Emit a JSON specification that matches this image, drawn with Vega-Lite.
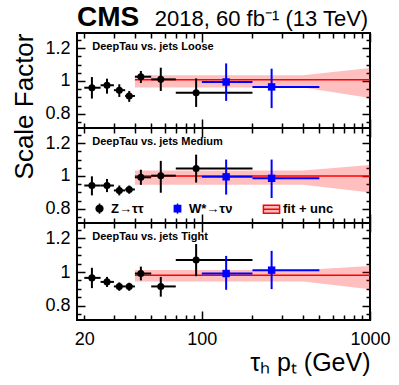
{
  "$schema": "https://vega.github.io/schema/vega-lite/v6.json",
  "autosize": {"type": "pad"},
  "padding": {"left": 10, "top": 3, "right": 0, "bottom": 0},
  "background": "white",
  "bounds": "flush",
  "spacing": 0,
  "datasets": {
    "points": [
      {"wp": "Loose", "src": "Z→ττ", "x": 22.2, "xlo": 20, "xhi": 25, "y": 0.959, "ylo": 0.893, "yhi": 1.024},
      {"wp": "Loose", "src": "Z→ττ", "x": 27.3, "xlo": 25, "xhi": 30, "y": 0.974, "ylo": 0.923, "yhi": 1.014},
      {"wp": "Loose", "src": "Z→ττ", "x": 32.3, "xlo": 30, "xhi": 35, "y": 0.944, "ylo": 0.903, "yhi": 0.98},
      {"wp": "Loose", "src": "Z→ττ", "x": 37.0, "xlo": 35, "xhi": 40, "y": 0.909, "ylo": 0.873, "yhi": 0.939},
      {"wp": "Loose", "src": "Z→ττ", "x": 43.4, "xlo": 40, "xhi": 50, "y": 1.026, "ylo": 0.988, "yhi": 1.061},
      {"wp": "Loose", "src": "Z→ττ", "x": 57.0, "xlo": 50, "xhi": 70, "y": 1.01, "ylo": 0.939, "yhi": 1.081},
      {"wp": "Loose", "src": "Z→ττ", "x": 92.5, "xlo": 70, "xhi": 200, "y": 0.929, "ylo": 0.842, "yhi": 1.016},
      {"wp": "Loose", "src": "W*→τν", "x": 139.5, "xlo": 100, "xhi": 200, "y": 0.994, "ylo": 0.879, "yhi": 1.107},
      {"wp": "Loose", "src": "W*→τν", "x": 260, "xlo": 200, "xhi": 500, "y": 0.964, "ylo": 0.835, "yhi": 1.075},
      {"wp": "Medium", "src": "Z→ττ", "x": 22.2, "xlo": 20, "xhi": 25, "y": 0.942, "ylo": 0.882, "yhi": 0.998},
      {"wp": "Medium", "src": "Z→ττ", "x": 27.3, "xlo": 25, "xhi": 30, "y": 0.942, "ylo": 0.902, "yhi": 0.982},
      {"wp": "Medium", "src": "Z→ττ", "x": 32.3, "xlo": 30, "xhi": 35, "y": 0.912, "ylo": 0.882, "yhi": 0.942},
      {"wp": "Medium", "src": "Z→ττ", "x": 37.0, "xlo": 35, "xhi": 40, "y": 0.918, "ylo": 0.892, "yhi": 0.942},
      {"wp": "Medium", "src": "Z→ττ", "x": 43.4, "xlo": 40, "xhi": 50, "y": 0.992, "ylo": 0.946, "yhi": 1.038},
      {"wp": "Medium", "src": "Z→ττ", "x": 57.0, "xlo": 50, "xhi": 70, "y": 1.002, "ylo": 0.898, "yhi": 1.092},
      {"wp": "Medium", "src": "Z→ττ", "x": 92.5, "xlo": 70, "xhi": 200, "y": 1.046, "ylo": 0.96, "yhi": 1.13},
      {"wp": "Medium", "src": "W*→τν", "x": 139.5, "xlo": 100, "xhi": 200, "y": 0.995, "ylo": 0.887, "yhi": 1.1},
      {"wp": "Medium", "src": "W*→τν", "x": 260, "xlo": 200, "xhi": 500, "y": 0.986, "ylo": 0.866, "yhi": 1.1},
      {"wp": "Tight", "src": "Z→ττ", "x": 22.2, "xlo": 20, "xhi": 25, "y": 0.965, "ylo": 0.904, "yhi": 1.025},
      {"wp": "Tight", "src": "Z→ττ", "x": 27.3, "xlo": 25, "xhi": 30, "y": 0.941, "ylo": 0.911, "yhi": 0.971},
      {"wp": "Tight", "src": "Z→ττ", "x": 32.3, "xlo": 30, "xhi": 35, "y": 0.914, "ylo": 0.888, "yhi": 0.938},
      {"wp": "Tight", "src": "Z→ττ", "x": 37.0, "xlo": 35, "xhi": 40, "y": 0.914, "ylo": 0.888, "yhi": 0.936},
      {"wp": "Tight", "src": "Z→ττ", "x": 43.4, "xlo": 40, "xhi": 50, "y": 0.991, "ylo": 0.95, "yhi": 1.032},
      {"wp": "Tight", "src": "Z→ττ", "x": 57.0, "xlo": 50, "xhi": 70, "y": 0.914, "ylo": 0.853, "yhi": 0.971},
      {"wp": "Tight", "src": "Z→ττ", "x": 92.5, "xlo": 70, "xhi": 200, "y": 1.072, "ylo": 0.975, "yhi": 1.167},
      {"wp": "Tight", "src": "W*→τν", "x": 139.5, "xlo": 100, "xhi": 200, "y": 0.991, "ylo": 0.894, "yhi": 1.096},
      {"wp": "Tight", "src": "W*→τν", "x": 260, "xlo": 200, "xhi": 500, "y": 1.011, "ylo": 0.898, "yhi": 1.126}
    ],
    "fit": [
      {"wp": "Loose", "pt": 40, "sf": 1.008, "lo": 0.96, "hi": 1.035},
      {"wp": "Loose", "pt": 400, "sf": 1.008, "lo": 0.96, "hi": 1.035},
      {"wp": "Loose", "pt": 1000, "sf": 1.008, "lo": 0.897, "hi": 1.079},
      {"wp": "Medium", "pt": 40, "sf": 1.0, "lo": 0.947, "hi": 1.033},
      {"wp": "Medium", "pt": 400, "sf": 1.0, "lo": 0.947, "hi": 1.033},
      {"wp": "Medium", "pt": 1000, "sf": 1.0, "lo": 0.899, "hi": 1.067},
      {"wp": "Tight", "pt": 40, "sf": 0.98, "lo": 0.943, "hi": 1.012},
      {"wp": "Tight", "pt": 400, "sf": 0.98, "lo": 0.943, "hi": 1.012},
      {"wp": "Tight", "pt": 1000, "sf": 0.98, "lo": 0.897, "hi": 1.036}
    ]
  },
  "vconcat": [
    {
      "width": 293,
      "height": 95,
      "resolve": {"axis": {"x": "independent", "y": "independent"}},
      "layer": [
        {
          "data": {"name": "fit"},
          "transform": [{"filter": "datum.wp == 'Loose'"}],
          "mark": {"type": "area", "fill": "#ff0000", "fillOpacity": 0.25},
          "encoding": {
            "x": {"field": "pt", "type": "quantitative", "scale": {"type": "log", "domain": [18.1, 1000], "nice": false},
              "axis": {"orient": "top", "values": [20, 30, 40, 50, 60, 70, 80, 90, 100, 200, 300, 400, 500, 600, 700, 800, 900, 1000], "labels": false, "title": null, "tickSize": {"condition": {"test": "datum.value==100||datum.value==1000", "value": -9}, "value": -5}}},
            "y": {"field": "lo", "type": "quantitative", "scale": {"domain": [0.714, 1.292], "nice": false, "zero": false},
              "axis": {"orient": "right", "values": [0.75, 0.8, 0.85, 0.9, 0.95, 1, 1.05, 1.1, 1.15, 1.2, 1.25], "labels": false, "title": null, "tickSize": {"condition": {"test": "datum.value==0.8||datum.value==1||datum.value==1.2", "value": -8}, "value": -4}}},
            "y2": {"field": "hi"}
          }
        },
        {
          "data": {"name": "fit"},
          "transform": [{"filter": "datum.wp == 'Loose'"}],
          "mark": {"type": "line", "color": "#ff0000", "strokeWidth": 1.5},
          "encoding": {
            "x": {"field": "pt", "type": "quantitative", "scale": {"type": "log", "domain": [18.1, 1000], "nice": false},
              "axis": {"orient": "bottom", "values": [20, 30, 40, 50, 60, 70, 80, 90, 100, 200, 300, 400, 500, 600, 700, 800, 900, 1000], "labels": false, "title": null, "tickSize": {"condition": {"test": "datum.value==100||datum.value==1000", "value": -9}, "value": -5}}},
            "y": {"field": "sf", "type": "quantitative", "scale": {"domain": [0.714, 1.292], "nice": false, "zero": false},
              "axis": {"orient": "left", "values": [0.75, 0.8, 0.85, 0.9, 0.95, 1, 1.05, 1.1, 1.15, 1.2, 1.25], "labelExpr": "datum.value==1?'1':datum.value==0.8?'0.8':datum.value==1.2?'1.2':''", "tickSize": {"condition": {"test": "datum.value==0.8||datum.value==1||datum.value==1.2", "value": -8}, "value": -4}, "labelPadding": {"condition": {"test": "datum.value==0.8||datum.value==1||datum.value==1.2", "value": 15}, "value": 11}, "title": "Scale Factor", "titleFontSize": 26, "titleAnchor": "end", "titlePadding": 7}}
          }
        },
        {
          "data": {"name": "points"},
          "transform": [{"filter": "datum.wp == 'Loose'"}],
          "mark": {"type": "rule", "strokeWidth": 2},
          "encoding": {
            "x": {"field": "xlo", "type": "quantitative", "scale": {"type": "log", "domain": [18.1, 1000], "nice": false}, "axis": null},
            "x2": {"field": "xhi"},
            "y": {"field": "y", "type": "quantitative", "scale": {"domain": [0.714, 1.292], "nice": false, "zero": false}, "axis": null},
            "color": {"condition": {"test": "datum.src == 'Z→ττ'", "value": "#000000"}, "value": "#0000ff"}
          }
        },
        {
          "data": {"name": "points"},
          "transform": [{"filter": "datum.wp == 'Loose'"}],
          "mark": {"type": "rule", "strokeWidth": 2},
          "encoding": {
            "x": {"field": "x", "type": "quantitative", "scale": {"type": "log", "domain": [18.1, 1000], "nice": false}, "axis": null},
            "y": {"field": "ylo", "type": "quantitative", "scale": {"domain": [0.714, 1.292], "nice": false, "zero": false}, "axis": null},
            "y2": {"field": "yhi"},
            "color": {"condition": {"test": "datum.src == 'Z→ττ'", "value": "#000000"}, "value": "#0000ff"}
          }
        },
        {
          "data": {"name": "points"},
          "transform": [{"filter": "datum.wp == 'Loose' && datum.src == 'Z→ττ'"}],
          "mark": {"type": "point", "shape": "circle", "filled": true, "size": 50, "opacity": 1, "color": "#000000"},
          "encoding": {
            "x": {"field": "x", "type": "quantitative", "scale": {"type": "log", "domain": [18.1, 1000], "nice": false}, "axis": null},
            "y": {"field": "y", "type": "quantitative", "scale": {"domain": [0.714, 1.292], "nice": false, "zero": false}, "axis": null}
          }
        },
        {
          "data": {"name": "points"},
          "transform": [{"filter": "datum.wp == 'Loose' && datum.src == 'W*→τν'"}],
          "mark": {"type": "point", "shape": "square", "filled": true, "size": 55, "opacity": 1, "color": "#0000ff"},
          "encoding": {
            "x": {"field": "x", "type": "quantitative", "scale": {"type": "log", "domain": [18.1, 1000], "nice": false}, "axis": null},
            "y": {"field": "y", "type": "quantitative", "scale": {"domain": [0.714, 1.292], "nice": false, "zero": false}, "axis": null}
          }
        },
        {
          "data": {"values": [{"t": "DeepTau vs. jets Loose"}]},
          "mark": {"type": "text", "align": "left", "baseline": "alphabetic", "font": "Liberation Sans", "fontWeight": "bold", "fontSize": 11, "color": "#000000"},
          "encoding": {
            "x": {"datum": 22.3, "type": "quantitative", "scale": {"type": "log", "domain": [18.1, 1000], "nice": false}, "axis": null},
            "y": {"datum": 1.188, "type": "quantitative", "scale": {"domain": [0.714, 1.292], "nice": false, "zero": false}, "axis": null},
            "text": {"field": "t"}
          }
        },
        {
          "data": {"values": [{"t": "CMS"}]},
          "mark": {"type": "text", "align": "left", "baseline": "alphabetic", "font": "Liberation Sans", "fontWeight": "bold", "fontSize": 28, "color": "#000000"},
          "encoding": {
            "x": {"datum": 18.1, "type": "quantitative", "scale": {"type": "log", "domain": [18.1, 1000], "nice": false}, "axis": null},
            "y": {"datum": 1.334, "type": "quantitative", "scale": {"domain": [0.714, 1.292], "nice": false, "zero": false}, "axis": null},
            "text": {"field": "t"}
          }
        },
        {
          "data": {"values": [{"t": "2018, 60 fb⁻¹ (13 TeV)"}]},
          "mark": {"type": "text", "align": "right", "baseline": "alphabetic", "font": "Liberation Sans", "fontSize": 22, "color": "#000000"},
          "encoding": {
            "x": {"datum": 975, "type": "quantitative", "scale": {"type": "log", "domain": [18.1, 1000], "nice": false}, "axis": null},
            "y": {"datum": 1.334, "type": "quantitative", "scale": {"domain": [0.714, 1.292], "nice": false, "zero": false}, "axis": null},
            "text": {"field": "t"}
          }
        }
      ]
    },
    {
      "width": 293,
      "height": 95,
      "resolve": {"axis": {"x": "independent", "y": "independent"}},
      "layer": [
        {
          "data": {"name": "fit"},
          "transform": [{"filter": "datum.wp == 'Medium'"}],
          "mark": {"type": "area", "fill": "#ff0000", "fillOpacity": 0.25},
          "encoding": {
            "x": {"field": "pt", "type": "quantitative", "scale": {"type": "log", "domain": [18.1, 1000], "nice": false},
              "axis": {"orient": "top", "values": [20, 30, 40, 50, 60, 70, 80, 90, 100, 200, 300, 400, 500, 600, 700, 800, 900, 1000], "labels": false, "title": null, "tickSize": {"condition": {"test": "datum.value==100||datum.value==1000", "value": -9}, "value": -5}}},
            "y": {"field": "lo", "type": "quantitative", "scale": {"domain": [0.714, 1.292], "nice": false, "zero": false},
              "axis": {"orient": "right", "values": [0.75, 0.8, 0.85, 0.9, 0.95, 1, 1.05, 1.1, 1.15, 1.2, 1.25], "labels": false, "title": null, "tickSize": {"condition": {"test": "datum.value==0.8||datum.value==1||datum.value==1.2", "value": -8}, "value": -4}}},
            "y2": {"field": "hi"}
          }
        },
        {
          "data": {"name": "fit"},
          "transform": [{"filter": "datum.wp == 'Medium'"}],
          "mark": {"type": "line", "color": "#ff0000", "strokeWidth": 1.5},
          "encoding": {
            "x": {"field": "pt", "type": "quantitative", "scale": {"type": "log", "domain": [18.1, 1000], "nice": false},
              "axis": {"orient": "bottom", "values": [20, 30, 40, 50, 60, 70, 80, 90, 100, 200, 300, 400, 500, 600, 700, 800, 900, 1000], "labels": false, "title": null, "tickSize": {"condition": {"test": "datum.value==100||datum.value==1000", "value": -9}, "value": -5}}},
            "y": {"field": "sf", "type": "quantitative", "scale": {"domain": [0.714, 1.292], "nice": false, "zero": false},
              "axis": {"orient": "left", "values": [0.75, 0.8, 0.85, 0.9, 0.95, 1, 1.05, 1.1, 1.15, 1.2, 1.25], "labelExpr": "datum.value==1?'1':datum.value==0.8?'0.8':datum.value==1.2?'1.2':''", "tickSize": {"condition": {"test": "datum.value==0.8||datum.value==1||datum.value==1.2", "value": -8}, "value": -4}, "labelPadding": {"condition": {"test": "datum.value==0.8||datum.value==1||datum.value==1.2", "value": 15}, "value": 11}, "title": null}}
          }
        },
        {
          "data": {"name": "points"},
          "transform": [{"filter": "datum.wp == 'Medium'"}],
          "mark": {"type": "rule", "strokeWidth": 2},
          "encoding": {
            "x": {"field": "xlo", "type": "quantitative", "scale": {"type": "log", "domain": [18.1, 1000], "nice": false}, "axis": null},
            "x2": {"field": "xhi"},
            "y": {"field": "y", "type": "quantitative", "scale": {"domain": [0.714, 1.292], "nice": false, "zero": false}, "axis": null},
            "color": {"condition": {"test": "datum.src == 'Z→ττ'", "value": "#000000"}, "value": "#0000ff"}
          }
        },
        {
          "data": {"name": "points"},
          "transform": [{"filter": "datum.wp == 'Medium'"}],
          "mark": {"type": "rule", "strokeWidth": 2},
          "encoding": {
            "x": {"field": "x", "type": "quantitative", "scale": {"type": "log", "domain": [18.1, 1000], "nice": false}, "axis": null},
            "y": {"field": "ylo", "type": "quantitative", "scale": {"domain": [0.714, 1.292], "nice": false, "zero": false}, "axis": null},
            "y2": {"field": "yhi"},
            "color": {"condition": {"test": "datum.src == 'Z→ττ'", "value": "#000000"}, "value": "#0000ff"}
          }
        },
        {
          "data": {"name": "points"},
          "transform": [{"filter": "datum.wp == 'Medium' && datum.src == 'Z→ττ'"}],
          "mark": {"type": "point", "shape": "circle", "filled": true, "size": 50, "opacity": 1, "color": "#000000"},
          "encoding": {
            "x": {"field": "x", "type": "quantitative", "scale": {"type": "log", "domain": [18.1, 1000], "nice": false}, "axis": null},
            "y": {"field": "y", "type": "quantitative", "scale": {"domain": [0.714, 1.292], "nice": false, "zero": false}, "axis": null}
          }
        },
        {
          "data": {"name": "points"},
          "transform": [{"filter": "datum.wp == 'Medium' && datum.src == 'W*→τν'"}],
          "mark": {"type": "point", "shape": "square", "filled": true, "size": 55, "opacity": 1, "color": "#0000ff"},
          "encoding": {
            "x": {"field": "x", "type": "quantitative", "scale": {"type": "log", "domain": [18.1, 1000], "nice": false}, "axis": null},
            "y": {"field": "y", "type": "quantitative", "scale": {"domain": [0.714, 1.292], "nice": false, "zero": false}, "axis": null}
          }
        },
        {
          "data": {"values": [{"t": "DeepTau vs. jets Medium"}]},
          "mark": {"type": "text", "align": "left", "baseline": "alphabetic", "font": "Liberation Sans", "fontWeight": "bold", "fontSize": 11, "color": "#000000"},
          "encoding": {
            "x": {"datum": 22.3, "type": "quantitative", "scale": {"type": "log", "domain": [18.1, 1000], "nice": false}, "axis": null},
            "y": {"datum": 1.188, "type": "quantitative", "scale": {"domain": [0.714, 1.292], "nice": false, "zero": false}, "axis": null},
            "text": {"field": "t"}
          }
        },
        {
          "data": {"values": [{"src": "Z→ττ"}, {"src": "W*→τν"}, {"src": "fit + unc"}]},
          "transform": [{"filter": "false"}],
          "mark": {"type": "point", "filled": true, "opacity": 1, "strokeWidth": 1.5},
          "encoding": {
            "fill": {"field": "src", "type": "nominal",
              "scale": {"domain": ["Z→ττ", "W*→τν", "fit + unc"], "range": ["#000000", "#0000ff", "#ffbcbc"]},
              "legend": {"orient": "none", "legendX": 16, "legendY": 169, "direction": "horizontal", "title": null, "padding": 0,
                "symbolSize": 81, "symbolStrokeWidth": 1.5, "symbolOpacity": 1, "labelOffset": 5, "columnPadding": 27, "labelFont": "Liberation Sans", "labelFontSize": 13, "labelFontWeight": "bold", "labelColor": "#000000"}},
            "stroke": {"field": "src", "type": "nominal",
              "scale": {"domain": ["Z→ττ", "W*→τν", "fit + unc"], "range": ["#000000", "#0000ff", "#ff0000"]},
              "legend": {"orient": "none", "legendX": 16, "legendY": 169, "direction": "horizontal", "title": null, "padding": 0,
                "symbolSize": 81, "symbolStrokeWidth": 1.5, "symbolOpacity": 1, "labelOffset": 5, "columnPadding": 27, "labelFont": "Liberation Sans", "labelFontSize": 13, "labelFontWeight": "bold", "labelColor": "#000000"}},
            "shape": {"field": "src", "type": "nominal",
              "scale": {"domain": ["Z→ττ", "W*→τν", "fit + unc"], "range": ["M0,-1.15V1.15M0.75,0A0.75,0.75,0,1,1,-0.75,0A0.75,0.75,0,1,1,0.75,0Z", "M0,-1.15V1.15M-0.7,-0.7H0.7V0.7H-0.7Z", "M-1.8,-0.9H1.8V0.9H-1.8ZM-1.8,0H1.8"]},
              "legend": {"orient": "none", "legendX": 16, "legendY": 169, "direction": "horizontal", "title": null, "padding": 0,
                "symbolSize": 81, "symbolStrokeWidth": 1.5, "symbolOpacity": 1, "labelOffset": 5, "columnPadding": 27, "labelFont": "Liberation Sans", "labelFontSize": 13, "labelFontWeight": "bold", "labelColor": "#000000"}}
          }
        }
      ]
    },
    {
      "width": 293,
      "height": 97,
      "resolve": {"axis": {"x": "independent", "y": "independent"}},
      "layer": [
        {
          "data": {"name": "fit"},
          "transform": [{"filter": "datum.wp == 'Tight'"}],
          "mark": {"type": "area", "fill": "#ff0000", "fillOpacity": 0.25},
          "encoding": {
            "x": {"field": "pt", "type": "quantitative", "scale": {"type": "log", "domain": [18.1, 1000], "nice": false},
              "axis": {"orient": "top", "values": [20, 30, 40, 50, 60, 70, 80, 90, 100, 200, 300, 400, 500, 600, 700, 800, 900, 1000], "labels": false, "title": null, "tickSize": {"condition": {"test": "datum.value==100||datum.value==1000", "value": -9}, "value": -5}}},
            "y": {"field": "lo", "type": "quantitative", "scale": {"domain": [0.714, 1.292], "nice": false, "zero": false},
              "axis": {"orient": "right", "values": [0.75, 0.8, 0.85, 0.9, 0.95, 1, 1.05, 1.1, 1.15, 1.2, 1.25], "labels": false, "title": null, "tickSize": {"condition": {"test": "datum.value==0.8||datum.value==1||datum.value==1.2", "value": -8}, "value": -4}}},
            "y2": {"field": "hi"}
          }
        },
        {
          "data": {"name": "fit"},
          "transform": [{"filter": "datum.wp == 'Tight'"}],
          "mark": {"type": "line", "color": "#ff0000", "strokeWidth": 1.5},
          "encoding": {
            "x": {"field": "pt", "type": "quantitative", "scale": {"type": "log", "domain": [18.1, 1000], "nice": false},
              "axis": {"orient": "bottom", "values": [20, 30, 40, 50, 60, 70, 80, 90, 100, 200, 300, 400, 500, 600, 700, 800, 900, 1000], "labelExpr": "datum.value==20?'20':datum.value==100?'100':datum.value==1000?'1000':''", "tickSize": {"condition": {"test": "datum.value==100||datum.value==1000", "value": -9}, "value": -5}, "labelPadding": {"condition": {"test": "datum.value==100||datum.value==1000", "value": 19}, "value": 15}, "title": "τₕ pₜ (GeV)", "titleFontSize": 25, "titleAnchor": "end", "titlePadding": 2}},
            "y": {"field": "sf", "type": "quantitative", "scale": {"domain": [0.714, 1.292], "nice": false, "zero": false},
              "axis": {"orient": "left", "values": [0.75, 0.8, 0.85, 0.9, 0.95, 1, 1.05, 1.1, 1.15, 1.2, 1.25], "labelExpr": "datum.value==1?'1':datum.value==0.8?'0.8':datum.value==1.2?'1.2':''", "tickSize": {"condition": {"test": "datum.value==0.8||datum.value==1||datum.value==1.2", "value": -8}, "value": -4}, "labelPadding": {"condition": {"test": "datum.value==0.8||datum.value==1||datum.value==1.2", "value": 15}, "value": 11}, "title": null}}
          }
        },
        {
          "data": {"name": "points"},
          "transform": [{"filter": "datum.wp == 'Tight'"}],
          "mark": {"type": "rule", "strokeWidth": 2},
          "encoding": {
            "x": {"field": "xlo", "type": "quantitative", "scale": {"type": "log", "domain": [18.1, 1000], "nice": false}, "axis": null},
            "x2": {"field": "xhi"},
            "y": {"field": "y", "type": "quantitative", "scale": {"domain": [0.714, 1.292], "nice": false, "zero": false}, "axis": null},
            "color": {"condition": {"test": "datum.src == 'Z→ττ'", "value": "#000000"}, "value": "#0000ff"}
          }
        },
        {
          "data": {"name": "points"},
          "transform": [{"filter": "datum.wp == 'Tight'"}],
          "mark": {"type": "rule", "strokeWidth": 2},
          "encoding": {
            "x": {"field": "x", "type": "quantitative", "scale": {"type": "log", "domain": [18.1, 1000], "nice": false}, "axis": null},
            "y": {"field": "ylo", "type": "quantitative", "scale": {"domain": [0.714, 1.292], "nice": false, "zero": false}, "axis": null},
            "y2": {"field": "yhi"},
            "color": {"condition": {"test": "datum.src == 'Z→ττ'", "value": "#000000"}, "value": "#0000ff"}
          }
        },
        {
          "data": {"name": "points"},
          "transform": [{"filter": "datum.wp == 'Tight' && datum.src == 'Z→ττ'"}],
          "mark": {"type": "point", "shape": "circle", "filled": true, "size": 50, "opacity": 1, "color": "#000000"},
          "encoding": {
            "x": {"field": "x", "type": "quantitative", "scale": {"type": "log", "domain": [18.1, 1000], "nice": false}, "axis": null},
            "y": {"field": "y", "type": "quantitative", "scale": {"domain": [0.714, 1.292], "nice": false, "zero": false}, "axis": null}
          }
        },
        {
          "data": {"name": "points"},
          "transform": [{"filter": "datum.wp == 'Tight' && datum.src == 'W*→τν'"}],
          "mark": {"type": "point", "shape": "square", "filled": true, "size": 55, "opacity": 1, "color": "#0000ff"},
          "encoding": {
            "x": {"field": "x", "type": "quantitative", "scale": {"type": "log", "domain": [18.1, 1000], "nice": false}, "axis": null},
            "y": {"field": "y", "type": "quantitative", "scale": {"domain": [0.714, 1.292], "nice": false, "zero": false}, "axis": null}
          }
        },
        {
          "data": {"values": [{"t": "DeepTau vs. jets Tight"}]},
          "mark": {"type": "text", "align": "left", "baseline": "alphabetic", "font": "Liberation Sans", "fontWeight": "bold", "fontSize": 11, "color": "#000000"},
          "encoding": {
            "x": {"datum": 22.3, "type": "quantitative", "scale": {"type": "log", "domain": [18.1, 1000], "nice": false}, "axis": null},
            "y": {"datum": 1.188, "type": "quantitative", "scale": {"domain": [0.714, 1.292], "nice": false, "zero": false}, "axis": null},
            "text": {"field": "t"}
          }
        }
      ]
    }
  ],
  "config": {
    "view": {"stroke": "#000000", "strokeWidth": 2},
    "axis": {"domain": false, "grid": false, "tickColor": "#000000", "tickWidth": 1.5, "labelFont": "Liberation Sans", "labelFontSize": 18, "labelColor": "#000000", "titleFont": "Liberation Sans", "titleColor": "#000000", "titleFontWeight": "normal", "labelFlush": false, "labelOverlap": false, "labelBound": false},
    "text": {"font": "Liberation Sans"}
  }
}
